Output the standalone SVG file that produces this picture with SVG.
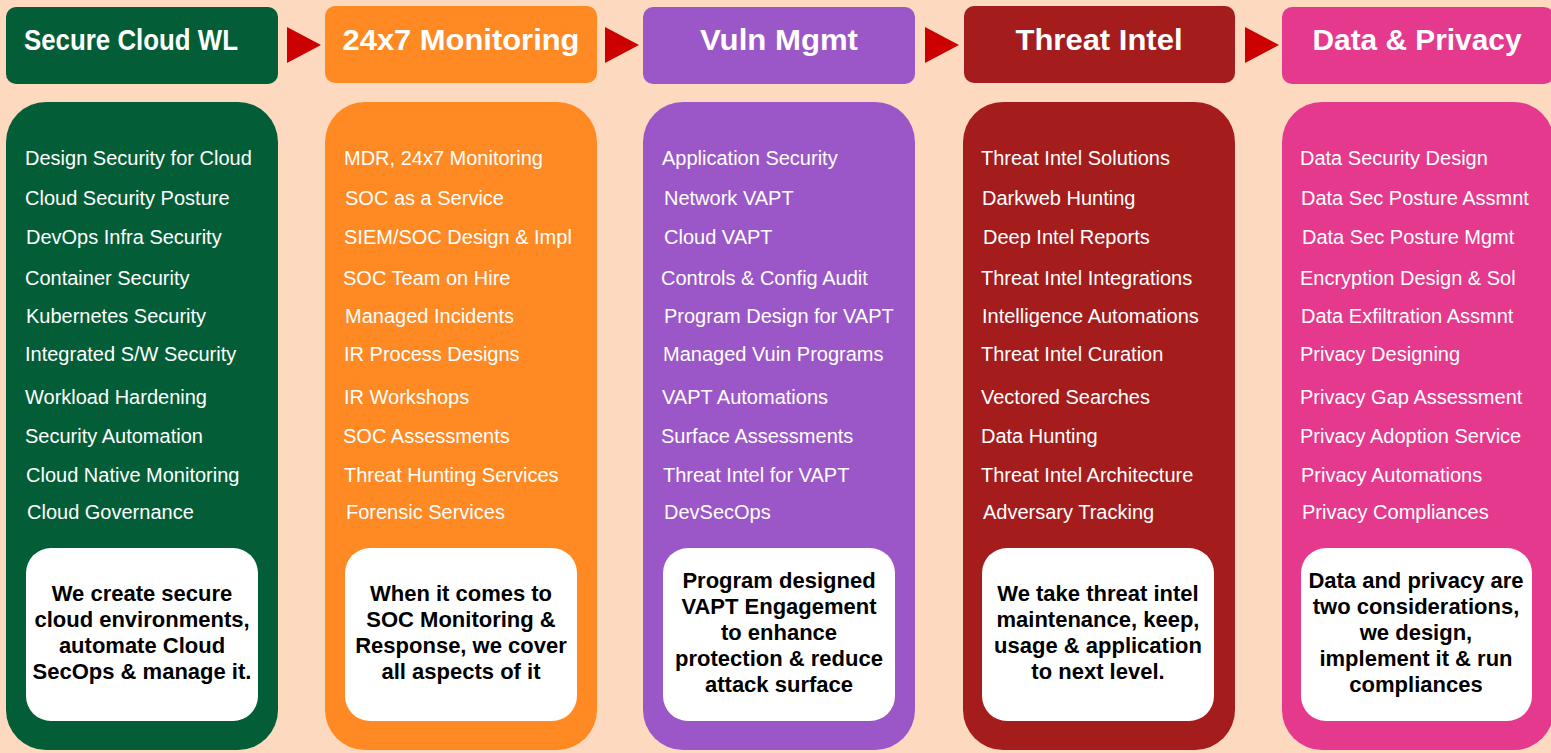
<svg xmlns="http://www.w3.org/2000/svg" width="1551" height="753" viewBox="0 0 1551 753">
<style>
.hdr-t{font-family:"Liberation Sans",Arial,sans-serif;font-weight:bold;font-size:30px;fill:#ffffff;text-anchor:middle}
.item{font-family:"Liberation Sans",Arial,sans-serif;font-size:20px;fill:#ffffff}
.note{font-family:"Liberation Sans",Arial,sans-serif;font-weight:bold;font-size:22px;fill:#000000;text-anchor:middle}
.wbox{fill:#ffffff}
.arrow{fill:#CC0000}
</style>
<rect x="0" y="0" width="1551" height="753" fill="#FDD9C0"/>

<g id="connectors">
<polygon class="arrow" points="287,27 321,45 287,63"/>
<polygon class="arrow" points="605,27 639,45 605,63"/>
<polygon class="arrow" points="925,27 959,45 925,63"/>
<polygon class="arrow" points="1245,27 1279,45 1245,63"/>
</g>

<g id="secure-cloud">
<rect x="6" y="7" width="272" height="77" rx="10" fill="#035E38"/>
<text class="hdr-t" x="131" y="50" textLength="214" lengthAdjust="spacingAndGlyphs">Secure Cloud WL</text>
<rect x="6" y="102" width="272" height="648" rx="40" fill="#035E38"/>
<text class="item" x="25" y="165">Design Security for Cloud</text>
<text class="item" x="25" y="205">Cloud Security Posture</text>
<text class="item" x="26" y="244">DevOps Infra Security</text>
<text class="item" x="25" y="285">Container Security</text>
<text class="item" x="26" y="323">Kubernetes Security</text>
<text class="item" x="25" y="361">Integrated S/W Security</text>
<text class="item" x="25" y="404">Workload Hardening</text>
<text class="item" x="25" y="443">Security Automation</text>
<text class="item" x="26" y="482">Cloud Native Monitoring</text>
<text class="item" x="27" y="519">Cloud Governance</text>
<rect class="wbox" x="26" y="548" width="232" height="173" rx="25"/>
<text class="note" x="142" y="601">We create secure</text>
<text class="note" x="142" y="627">cloud environments,</text>
<text class="note" x="142" y="653">automate Cloud</text>
<text class="note" x="142" y="679">SecOps &amp; manage it.</text>
</g>

<g id="monitoring">
<rect x="325" y="6" width="272" height="77" rx="10" fill="#FF8923"/>
<text class="hdr-t" x="461" y="50" textLength="237" lengthAdjust="spacingAndGlyphs">24x7 Monitoring</text>
<rect x="325" y="102" width="272" height="648" rx="40" fill="#FF8923"/>
<text class="item" x="344" y="165">MDR, 24x7 Monitoring</text>
<text class="item" x="345" y="205">SOC as a Service</text>
<text class="item" x="344" y="244">SIEM/SOC Design &amp; Impl</text>
<text class="item" x="343" y="285">SOC Team on Hire</text>
<text class="item" x="345" y="323">Managed Incidents</text>
<text class="item" x="344" y="361">IR Process Designs</text>
<text class="item" x="344" y="404">IR Workshops</text>
<text class="item" x="343" y="443">SOC Assessments</text>
<text class="item" x="344" y="482">Threat Hunting Services</text>
<text class="item" x="346" y="519">Forensic Services</text>
<rect class="wbox" x="345" y="548" width="232" height="173" rx="25"/>
<text class="note" x="461" y="601">When it comes to</text>
<text class="note" x="461" y="627">SOC Monitoring &amp;</text>
<text class="note" x="461" y="653">Response, we cover</text>
<text class="note" x="461" y="679">all aspects of it</text>
</g>

<g id="vuln-mgmt">
<rect x="643" y="7" width="272" height="77" rx="10" fill="#9B57C8"/>
<text class="hdr-t" x="779" y="50" textLength="158" lengthAdjust="spacingAndGlyphs">Vuln Mgmt</text>
<rect x="643" y="102" width="272" height="648" rx="40" fill="#9B57C8"/>
<text class="item" x="662" y="165">Application Security</text>
<text class="item" x="664" y="205">Network VAPT</text>
<text class="item" x="664" y="244">Cloud VAPT</text>
<text class="item" x="661" y="285">Controls &amp; Config Audit</text>
<text class="item" x="664" y="323">Program Design for VAPT</text>
<text class="item" x="663" y="361">Managed Vuin Programs</text>
<text class="item" x="662" y="404">VAPT Automations</text>
<text class="item" x="661" y="443">Surface Assessments</text>
<text class="item" x="663" y="482">Threat Intel for VAPT</text>
<text class="item" x="664" y="519">DevSecOps</text>
<rect class="wbox" x="663" y="548" width="232" height="173" rx="25"/>
<text class="note" x="779" y="588">Program designed</text>
<text class="note" x="779" y="614">VAPT Engagement</text>
<text class="note" x="779" y="640">to enhance</text>
<text class="note" x="779" y="666">protection &amp; reduce</text>
<text class="note" x="779" y="692">attack surface</text>
</g>

<g id="threat-intel">
<rect x="964" y="6" width="271" height="77" rx="10" fill="#A51C1C"/>
<text class="hdr-t" x="1099" y="50" textLength="167" lengthAdjust="spacingAndGlyphs">Threat Intel</text>
<rect x="963" y="102" width="272" height="648" rx="40" fill="#A51C1C"/>
<text class="item" x="981" y="165">Threat Intel Solutions</text>
<text class="item" x="982" y="205">Darkweb Hunting</text>
<text class="item" x="983" y="244">Deep Intel Reports</text>
<text class="item" x="981" y="285">Threat Intel Integrations</text>
<text class="item" x="982" y="323">Intelligence Automations</text>
<text class="item" x="981" y="361">Threat Intel Curation</text>
<text class="item" x="981" y="404">Vectored Searches</text>
<text class="item" x="981" y="443">Data Hunting</text>
<text class="item" x="981" y="482">Threat Intel Architecture</text>
<text class="item" x="983" y="519">Adversary Tracking</text>
<rect class="wbox" x="982" y="548" width="232" height="173" rx="25"/>
<text class="note" x="1098" y="601">We take threat intel</text>
<text class="note" x="1098" y="627">maintenance, keep,</text>
<text class="note" x="1098" y="653">usage &amp; application</text>
<text class="note" x="1098" y="679">to next level.</text>
</g>

<g id="data-privacy">
<rect x="1282" y="7" width="272" height="77" rx="10" fill="#E5398D"/>
<text class="hdr-t" x="1417" y="50" textLength="209" lengthAdjust="spacingAndGlyphs">Data &amp; Privacy</text>
<rect x="1282" y="102" width="272" height="648" rx="40" fill="#E5398D"/>
<text class="item" x="1300" y="165">Data Security Design</text>
<text class="item" x="1301" y="205">Data Sec Posture Assmnt</text>
<text class="item" x="1302" y="244">Data Sec Posture Mgmt</text>
<text class="item" x="1300" y="285">Encryption Design &amp; Sol</text>
<text class="item" x="1301" y="323">Data Exfiltration Assmnt</text>
<text class="item" x="1300" y="361">Privacy Designing</text>
<text class="item" x="1300" y="404">Privacy Gap Assessment</text>
<text class="item" x="1300" y="443">Privacy Adoption Service</text>
<text class="item" x="1301" y="482">Privacy Automations</text>
<text class="item" x="1302" y="519">Privacy Compliances</text>
<rect class="wbox" x="1301" y="548" width="231" height="173" rx="25"/>
<text class="note" x="1416" y="588">Data and privacy are</text>
<text class="note" x="1416" y="614">two considerations,</text>
<text class="note" x="1416" y="640">we design,</text>
<text class="note" x="1416" y="666">implement it &amp; run</text>
<text class="note" x="1416" y="692">compliances</text>
</g>
</svg>
